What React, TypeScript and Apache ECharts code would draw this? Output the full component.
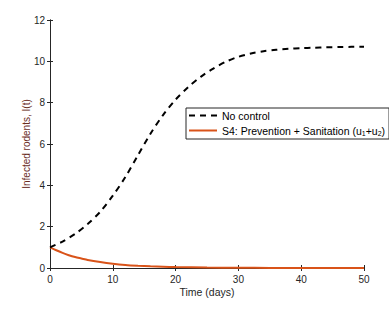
import React, { useEffect, useRef } from "react";
import * as echarts from "echarts";

const timeNoControl = [0, 2, 4, 6, 8, 10, 12, 14, 16, 18, 20, 22, 24, 26, 28, 30, 32, 34, 36, 38, 40, 42, 44, 46, 48, 50];
const noControl = [1.0, 1.28, 1.65, 2.13, 2.72, 3.5, 4.4, 5.45, 6.5, 7.4, 8.15, 8.75, 9.25, 9.65, 9.98, 10.22, 10.38, 10.49, 10.56, 10.61, 10.64, 10.66, 10.68, 10.69, 10.7, 10.7];

const timeS4 = [0, 1, 2, 3, 4, 5, 6, 8, 10, 12, 14, 16, 18, 20, 25, 30, 35, 40, 45, 50];
const s4 = [1.0, 0.86, 0.73, 0.62, 0.53, 0.46, 0.39, 0.29, 0.21, 0.15, 0.11, 0.08, 0.06, 0.045, 0.02, 0.01, 0.005, 0.003, 0.002, 0.001];

const xTicks = [0, 10, 20, 30, 40, 50];
const yTicks = [0, 2, 4, 6, 8, 10, 12];

const FONT = "Arial, 'Liberation Sans', Helvetica, sans-serif";
const AX = "#262626";

export default function App() {
  const ref = useRef<HTMLDivElement>(null);
  useEffect(() => {
    if (!ref.current) return;
    const chart = echarts.init(ref.current, null, { renderer: "svg" });
    const axisCommon = {
      type: "value" as const,
      axisLine: { show: true, lineStyle: { color: AX, width: 1 } },
      axisTick: { show: true, inside: true, length: 3, lineStyle: { color: AX } },
      splitLine: { show: false },
    };
    chart.setOption({
      animation: false,
      backgroundColor: "#ffffff",
      textStyle: { fontFamily: FONT },
      grid: { left: 50, right: 25, top: 20, bottom: 41, containLabel: false },
      xAxis: [
        {
          ...axisCommon,
          min: xTicks[0],
          max: xTicks[xTicks.length - 1],
          interval: 10,
          position: "bottom",
          name: "Time (days)",
          nameLocation: "middle",
          nameGap: 18,
          nameMoveOverlap: false,
          nameTextStyle: { color: AX, fontSize: 10.5, fontFamily: FONT },
          axisLabel: { color: AX, fontSize: 10, margin: 6, fontFamily: FONT },
        },
        {
          ...axisCommon,
          min: xTicks[0],
          max: xTicks[xTicks.length - 1],
          interval: 10,
          position: "top",
          axisLabel: { show: false },
        },
      ],
      yAxis: [
        {
          ...axisCommon,
          min: yTicks[0],
          max: yTicks[yTicks.length - 1],
          interval: 2,
          position: "left",
          name: "Infected rodents, I(t)",
          nameLocation: "middle",
          nameGap: 19,
          nameMoveOverlap: false,
          nameTextStyle: { color: "#6b2e1f", fontSize: 10, fontFamily: FONT },
          axisLabel: { color: AX, fontSize: 10, margin: 5, fontFamily: FONT },
        },
        {
          ...axisCommon,
          min: yTicks[0],
          max: yTicks[yTicks.length - 1],
          interval: 2,
          position: "right",
          axisLabel: { show: false },
        },
      ],
      legend: {
        left: 186,
        top: 108,
        orient: "vertical",
        itemWidth: 28,
        itemHeight: 10,
        itemGap: 4,
        padding: [2, 4, 2, 2],
        borderColor: AX,
        borderWidth: 1,
        backgroundColor: "#ffffff",
        itemStyle: { opacity: 0 },
        textStyle: {
          color: "#000",
          fontSize: 10.5,
          fontFamily: FONT,
          rich: {
            t: { fontSize: 10.5, color: "#000", fontFamily: FONT },
            s: { fontSize: 7, color: "#000", fontFamily: FONT, padding: [6, 0, 0, 0] },
          },
        },
        formatter: (name: string) => {
          if (name.startsWith("S4")) {
            return "{t|S4: Prevention + Sanitation (u}{s|1}{t|+u}{s|2}{t|)}";
          }
          return "{t|" + name + "}";
        },
        data: ["No control", "S4: Prevention + Sanitation (u1+u2)"],
      },
      series: [
        {
          name: "No control",
          type: "line",
          symbol: "none",
          smooth: 0.3,
          data: timeNoControl.map((t, i) => [t, noControl[i]]),
          lineStyle: { color: "#000000", width: 2, type: [6, 5] },
          itemStyle: { color: "#000000" },
          z: 3,
        },
        {
          name: "S4: Prevention + Sanitation (u1+u2)",
          type: "line",
          symbol: "none",
          smooth: 0.3,
          data: timeS4.map((t, i) => [t, s4[i]]),
          lineStyle: { color: "#D95319", width: 2 },
          itemStyle: { color: "#D95319" },
          z: 2,
        },
      ],
    });
    return () => chart.dispose();
  }, []);
  return <div ref={ref} style={{ width: 389, height: 309, position: "absolute", left: 0, top: 0 }} />;
}
